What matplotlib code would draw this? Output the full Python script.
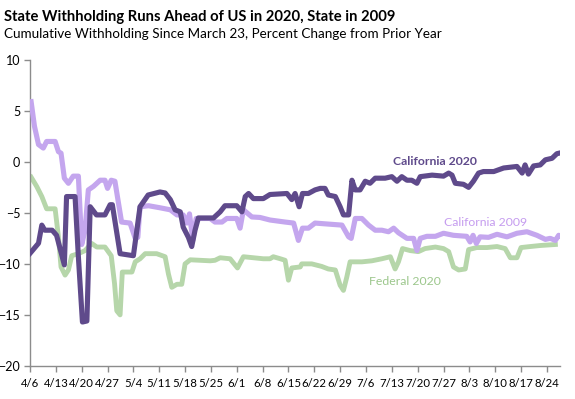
import datetime as dt
import matplotlib
matplotlib.use('Agg')
import matplotlib.pyplot as plt

# ── Data (day offsets from 4/6/2020, percent change) ─────────
START = dt.date(2020, 4, 6)

ca20_days = [0, 2.3, 3.2, 4, 6, 7.2, 9.3, 9.9, 12.2, 13.1, 14.2, 15.4, 16.3, 18, 20.3,
             21.7, 22.3, 24.4, 28, 29.8, 32, 35.2, 36.6, 38, 39.3, 40.7, 41.5, 42.9,
             43.8, 44.7, 45.6, 49.7, 51.5, 52.8, 56, 57.4, 58.3, 59.2, 60.5, 63.2, 65,
             69.6, 70.9, 71.8, 72.9, 73.8, 75.4, 77.2, 78.6, 79.9, 80.8, 82.7, 84,
             84.9, 86.3, 87.2, 88.1, 89.4, 90.8, 92.1, 93.5, 96.2, 98, 99.4, 100.7,
             102.1, 103.4, 104.8, 105.7, 108.9, 112, 113.4, 114.3, 115.2, 117.4, 118.8,
             120.1, 121.5, 122.8, 125.6, 128.3, 131.9, 133.3, 134.1, 135, 136.4, 138.2,
             139.6, 141.4, 142.7, 143.9]
ca20_vals = [-8.97, -7.98, -6.2, -6.7, -6.7, -7.2, -10.1, -3.4, -3.4, -9.3, -15.7, -15.6,
             -4.4, -5.2, -5.2, -4.2, -4.2, -9.0, -9.2, -4.4, -3.25, -2.95, -3.05, -3.7,
             -4.7, -4.9, -6.4, -7.4, -8.3, -6.7, -5.5, -5.5, -4.9, -4.3, -4.3, -4.9,
             -3.4, -3.1, -3.6, -3.6, -3.2, -3.1, -3.7, -3.1, -4.4, -3.1, -3.1, -2.75,
             -2.6, -2.6, -3.25, -3.4, -4.4, -5.2, -5.2, -1.8, -2.75, -2.75, -1.9, -2.1,
             -1.6, -1.6, -1.45, -1.9, -1.45, -1.8, -1.8, -2.1, -1.45, -1.3, -1.4, -1.1,
             -1.3, -2.1, -2.2, -2.5, -1.9, -1.1, -0.95, -0.95, -0.6, -0.45, -1.1, -0.3,
             -1.2, -0.4, -0.3, 0.2, 0.35, 0.8, 0.9]

ca09_days = [0.3, 1.2, 2.3, 3.6, 4.5, 6.8, 7.7, 8.4, 9.3, 10.4, 11.7, 13.1, 14, 14.9,
             15.8, 17.2, 19, 20.3, 21, 22, 23, 24.8, 27.1, 28.5, 29.2, 29.8, 32.1, 35.2,
             38, 39.8, 41.5, 42.5, 43.2, 44.1, 45, 48.8, 50.1, 52, 53.3, 56, 56.9, 57.8,
             60.1, 62.3, 65, 69.1, 71.4, 72.7, 73.8, 75.4, 77.2, 80.8, 84.5, 86.3, 87,
             88.1, 89.9, 91.7, 93.5, 95.3, 97.1, 98.5, 99.8, 102.1, 103.9, 104.8, 105.7,
             107.5, 109.8, 112, 114.7, 118.3, 119.2, 120, 120.9, 121.9, 124.2, 126.5,
             129.2, 131.9, 134.6, 137.3, 139.6, 140.9, 142.3, 143.2, 143.9]
ca09_vals = [5.9, 3.5, 1.7, 1.35, 2.0, 2.0, 1.0, 0.85, -1.6, -2.1, -1.4, -1.4, -8.1, -6.7,
             -2.75, -2.4, -1.8, -1.8, -2.6, -1.8, -1.9, -5.9, -6.0, -7.5, -7.4, -4.4, -4.3,
             -4.5, -4.7, -5.2, -5.2, -6.0, -5.1, -7.7, -5.55, -5.55, -5.9, -5.9, -5.55,
             -5.55, -6.5, -4.7, -5.4, -5.45, -5.7, -5.9, -6.0, -7.7, -6.5, -6.5, -6.0, -6.1,
             -6.2, -7.35, -7.5, -5.55, -5.55, -6.2, -6.7, -6.7, -6.85, -6.5, -6.95, -7.5,
             -7.5, -8.7, -7.5, -7.3, -7.3, -7.0, -7.2, -7.3, -7.85, -7.2, -8.0, -7.35,
             -7.4, -7.1, -7.35, -7.0, -6.85, -7.2, -7.6, -7.5, -7.7, -7.2, -7.3]

fed_days = [0.3, 1.8, 3.2, 4.5, 6.8, 7.7, 8.4, 9.5, 10.4, 11.3, 13.1, 14.9, 16.7, 18.1,
            20.3, 22, 22.9, 23.5, 24.4, 25, 27.6, 28.5, 29.8, 31.2, 34.3, 36.6, 37.5,
            38.4, 39.8, 41.1, 42, 43.4, 46.1, 48.8, 50.1, 51.5, 54.2, 56.2, 57.8, 60.5,
            63.2, 65, 65.9, 67.8, 69.1, 70, 70.9, 73.2, 73.6, 76.3, 79, 80.8, 82.7, 84,
            84.9, 85.8, 86.7, 89.9, 92.6, 95.3, 97.6, 98.9, 99.8, 100.9, 103, 105.2, 107,
            109.8, 112, 113.4, 114.7, 116.1, 117.9, 118.8, 121, 123.8, 126.5, 128.7,
            130.1, 131.9, 133, 135.5, 138.2, 142.3]
fed_vals = [-1.5, -2.4, -3.4, -4.6, -4.6, -7.35, -10.3, -11.1, -10.6, -9.2, -9.0, -8.7,
            -8.0, -8.35, -8.35, -9.2, -11.95, -14.6, -15.0, -10.8, -10.8, -9.8, -9.5, -9.0,
            -9.0, -9.3, -11.0, -12.3, -12.0, -12.0, -10.0, -9.6, -9.65, -9.7, -9.65, -9.4,
            -9.5, -10.4, -9.3, -9.4, -9.5, -9.5, -9.3, -9.5, -9.65, -11.6, -10.4, -10.3,
            -10.0, -10.0, -10.25, -10.5, -10.6, -12.1, -12.6, -11.3, -9.8, -9.8, -9.7,
            -9.5, -9.3, -10.5, -9.8, -8.5, -8.7, -8.8, -8.5, -8.35, -8.5, -8.8, -10.3,
            -10.6, -10.5, -8.6, -8.4, -8.4, -8.3, -8.5, -9.4, -9.4, -8.4, -8.3, -8.2, -8.1]

tick_days = list(range(0, 141, 7))
tick_labels = [f"{d.month}/{d.day}" for d in
               (START + dt.timedelta(days=k) for k in tick_days)]

# ── Style ────────────────────────────────────────────────────
DARK   = '#5f4a8b'
LIGHT  = '#c4a6ee'
GREEN  = '#b6d6aa'
AXIS   = '#8c8c8c'

plt.rcParams['font.family'] = ['Lato', 'DejaVu Sans']

fig = plt.figure(figsize=(5.75, 3.99), dpi=100)
ax = fig.add_axes([0.0522, 0.083, 0.922, 0.767])

ax.plot(fed_days, fed_vals, color=GREEN, lw=3.5, solid_joinstyle='round', zorder=2)
ax.plot(ca09_days, ca09_vals, color=LIGHT, lw=3.7, solid_joinstyle='round', zorder=3)
ax.plot(ca20_days, ca20_vals, color=DARK, lw=3.7, solid_joinstyle='round', zorder=4)

ax.set_xlim(0, 143.6)
ax.set_ylim(-20, 10)
ax.set_yticks(range(-20, 11, 5))
ax.set_xticks(tick_days)
ax.set_xticklabels(tick_labels)

for s in ('top', 'right'):
    ax.spines[s].set_visible(False)
for s in ('left', 'bottom'):
    ax.spines[s].set_color(AXIS)
    ax.spines[s].set_linewidth(1.0)
ax.tick_params(axis='both', colors=AXIS, length=4, width=1.0,
               labelcolor='#000000')
ax.tick_params(axis='y', pad=3, labelsize=9)
ax.tick_params(axis='x', pad=5, labelsize=8.2)

# series labels
ax.text(109.8, 0.0, 'California 2020', color=DARK, fontsize=8.8,
        fontweight='bold', ha='center', va='center')
ax.text(123.3, -5.9, 'California 2009', color='#c59cef', fontsize=8.8,
        ha='center', va='center')
ax.text(101.6, -11.7, 'Federal 2020', color='#9cc78c', fontsize=8.8,
        ha='center', va='center')

# titles
fig.text(0.007, 0.975, 'State Withholding Runs Ahead of US in 2020, State in 2009',
         fontsize=10.6, fontweight='bold', ha='left', va='top')
fig.text(0.007, 0.93, 'Cumulative Withholding Since March 23, Percent Change from Prior Year',
         fontsize=9.7, ha='left', va='top')

fig.savefig('out.png', dpi=100)
